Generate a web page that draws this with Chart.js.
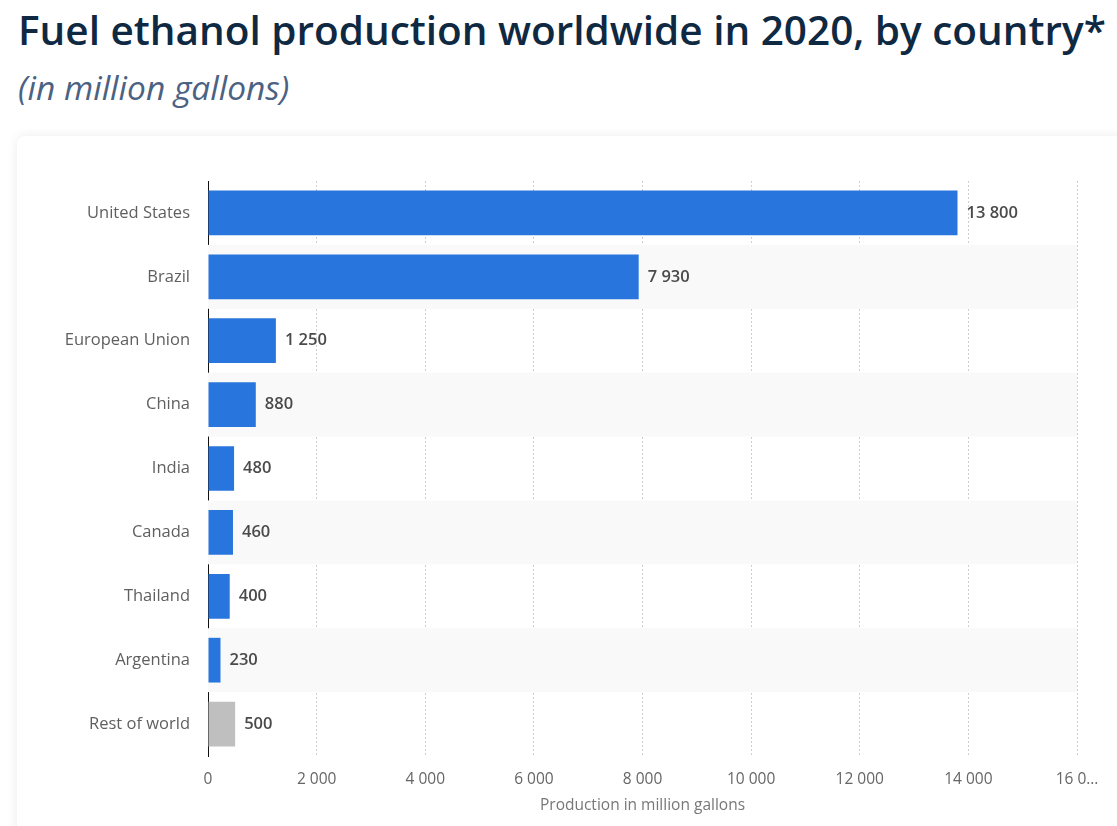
<!DOCTYPE html>
<html lang="en">
<head>
  <meta charset="UTF-8">
  <title>Fuel ethanol production worldwide in 2020</title>
  <script src="https://cdn.jsdelivr.net/npm/chart.js"></script>
  <style>
    html, body { margin: 0; padding: 0; background: #fff; overflow: hidden; }
    body { width: 1117px; height: 826px; position: relative; font-family: "Open Sans", Arial, sans-serif; }
    #titulo { position: absolute; left: 18px; top: 2px; margin: 0; font-size: 40.5px; font-weight: 600; color: #0f2942; white-space: nowrap; }
    #sub { position: absolute; left: 18px; top: 64px; margin: 0; font-size: 33.5px; font-style: italic; color: #4b6282; white-space: nowrap; }
    #card { position: absolute; left: 17px; top: 136px; width: 1120px; height: 720px; background: #fff; border-radius: 8px; box-shadow: 0 0 12px rgba(0,0,0,0.08); }
    #grafico { position: absolute; left: 0; top: 0; }
  </style>
</head>
<body>
  <h1 id="titulo">Fuel ethanol production worldwide in 2020, by country*</h1>
  <p id="sub">(in million gallons)</p>
  <div id="card"><canvas id="grafico" width="1100" height="690"></canvas></div>

  <script>
    // dados
    const paises = ['United States', 'Brazil', 'European Union', 'China', 'India', 'Canada', 'Thailand', 'Argentina', 'Rest of world'];
    const producao = [13800, 7930, 1250, 880, 480, 460, 400, 230, 500];
    const cores = ['#2876dd', '#2876dd', '#2876dd', '#2876dd', '#2876dd', '#2876dd', '#2876dd', '#2876dd', '#bfbfbf'];
    const ticksX = [0, 2000, 4000, 6000, 8000, 10000, 12000, 14000, 16000];

    function fmt(v) {
      return String(v).replace(/\B(?=(\d{3})+(?!\d))/g, ' ');
    }

    // faixas alternadas atrás das barras
    const faixas = {
      id: 'faixas',
      beforeDatasetsDraw(chart) {
        const { ctx, chartArea, scales } = chart;
        const y = scales.y;
        const passo = (chartArea.bottom - chartArea.top) / paises.length;
        ctx.save();
        ctx.fillStyle = '#f9f9f9';
        paises.forEach((p, i) => {
          if (i % 2 === 1) {
            const c = y.getPixelForValue(i);
            ctx.fillRect(chartArea.left, c - passo / 2, chartArea.right - chartArea.left, passo);
          }
        });
        ctx.restore();
      }
    };

    // rótulos de valor no fim das barras
    const rotulos = {
      id: 'rotulos',
      afterDatasetsDraw(chart) {
        const { ctx } = chart;
        const meta = chart.getDatasetMeta(0);
        ctx.save();
        ctx.font = '600 16.5px "Open Sans", Arial, sans-serif';
        ctx.fillStyle = '#4a4a4a';
        ctx.textBaseline = 'middle';
        meta.data.forEach((bar, i) => {
          ctx.fillText(fmt(producao[i]), bar.x + 9, bar.y);
        });
        ctx.restore();
      }
    };

    new Chart(document.getElementById('grafico'), {
      type: 'bar',
      data: {
        labels: paises,
        datasets: [{
          data: producao,
          backgroundColor: cores,
          barPercentage: 0.7,
          categoryPercentage: 1
        }]
      },
      options: {
        indexAxis: 'y',
        responsive: false,
        animation: false,
        layout: { padding: { top: 45, right: 40, left: 0, bottom: 0 } },
        plugins: { legend: { display: false }, tooltip: { enabled: false } },
        scales: {
          x: {
            min: 0,
            max: 16000,
            afterBuildTicks(s) { s.ticks = ticksX.map(v => ({ value: v })); },
            afterFit(s) { s.height = 70; },
            grid: { color: '#cfcfcf', tickLength: 0, drawTicks: false },
            border: { display: false, dash: [2, 2] },
            ticks: {
              padding: 14,
              color: '#666',
              font: { size: 15.5, family: '"Open Sans", Arial, sans-serif' },
              callback: v => v === 16000 ? '16 0…' : fmt(v)
            },
            title: {
              display: true,
              text: 'Production in million gallons',
              color: '#777',
              font: { size: 15.5, family: '"Open Sans", Arial, sans-serif' },
              padding: { top: 0, bottom: 11 }
            }
          },
          y: {
            afterFit(s) { s.width = 191; },
            grid: { display: false, drawTicks: false },
            border: { display: true, color: '#111', width: 1 },
            ticks: {
              padding: 18,
              color: '#5f5f5f',
              font: { size: 16.5, family: '"Open Sans", Arial, sans-serif' }
            }
          }
        }
      },
      plugins: [faixas, rotulos]
    });
  </script>
</body>
</html>
